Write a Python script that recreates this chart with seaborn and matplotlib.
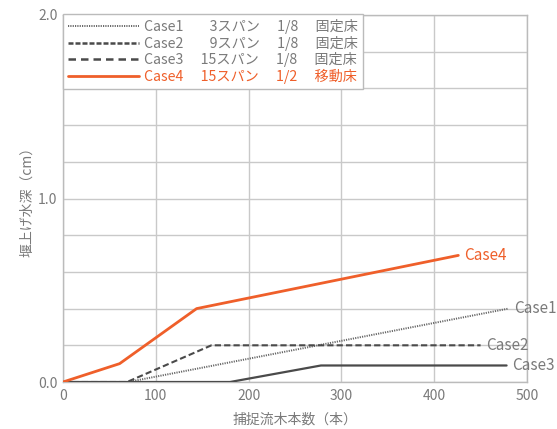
import matplotlib
matplotlib.use("Agg")
import matplotlib.pyplot as plt
from matplotlib.lines import Line2D
import seaborn as sns
import pandas as pd
import numpy as np

# ---- data ----
case1_x = [0, 70, 480]
case1_y = [0.0, 0.0, 0.40]
case2_x = [0, 69, 160, 450]
case2_y = [0.0, 0.0, 0.20, 0.20]
case3_x = [0, 180, 278, 478]
case3_y = [0.0, 0.0, 0.09, 0.09]
case4_x = [0, 61, 144, 426]
case4_y = [0.0, 0.10, 0.40, 0.69]

case_names = ["Case1", "Case2", "Case3", "Case4"]
legend_labels = [
    "Case1\u2003\u2007 3スパン\u2003 1/8\u2003 固定床",
    "Case2\u2003\u2007 9スパン\u2003 1/8\u2003 固定床",
    "Case3\u2003 15スパン\u2003 1/8\u2003 固定床",
    "Case4\u2003 15スパン\u2003 1/2\u2003 移動床",
]
x_ticks = [0, 100, 200, 300, 400, 500]
y_ticks = [0.0, 1.0, 2.0]
y_tick_labels = ["0.0", "1.0", "2.0"]
xlabel = "捕捉流木本数（本）"
ylabel = "堰上げ水深（cm）"

sns.set_theme(style="white")
plt.rcParams["font.family"] = ["Noto Sans CJK JP", "DejaVu Sans"]

GRAY_TXT = "#7a7a7a"
DARK = "#4a4a4a"
ORANGE = "#ef5f2a"
GRID = "#c9c9c9"

frames = []
for name, xs, ys in [("Case1", case1_x, case1_y), ("Case2", case2_x, case2_y),
                     ("Case3", case3_x, case3_y), ("Case4", case4_x, case4_y)]:
    frames.append(pd.DataFrame({"x": xs, "y": ys, "case": name}))
df = pd.concat(frames, ignore_index=True)

fig = plt.figure(figsize=(5.57, 4.29), dpi=100)
ax = fig.add_axes([63/557, 47/429, (527-63)/557, (382-15)/429])

styles = {
    "Case1": dict(color="#666666", lw=1.4, ls=(0, (0.6, 0.6))),
    "Case2": dict(color=DARK, lw=1.5, ls=(0, (3, 1.5))),
    "Case3": dict(color=DARK, lw=1.6, ls="-"),
    "Case4": dict(color=ORANGE, lw=2.0, ls="-"),
}
for name in case_names:
    sub = df[df["case"] == name]
    st = styles[name]
    sns.lineplot(data=sub, x="x", y="y", ax=ax, color=st["color"], lw=st["lw"],
                 linestyle=st["ls"], legend=False, sort=False, zorder=3)

ax.set_xlim(0, 500)
ax.set_ylim(0, 2.0)
ax.set_xticks(x_ticks)
ax.set_yticks(y_ticks)
ax.set_yticklabels(y_tick_labels)
ax.set_yticks(np.arange(0, 2.01, 0.2), minor=True)
ax.grid(True, which="both", color=GRID, lw=1.0)
ax.set_axisbelow(True)
ax.tick_params(axis="both", length=0, labelsize=10, colors=GRAY_TXT)
ax.tick_params(axis="x", pad=5)
ax.tick_params(axis="y", pad=4)
ax.set_xlabel(xlabel, fontsize=10, color=GRAY_TXT, labelpad=7)
ax.set_ylabel(ylabel, fontsize=10, color=GRAY_TXT, labelpad=3)
for s in ax.spines.values():
    s.set_color("#bbbbbb")
    s.set_linewidth(1.0)

# end labels
end_labels = [("Case1", case1_x[-1], case1_y[-1], GRAY_TXT),
              ("Case2", case2_x[-1], case2_y[-1], GRAY_TXT),
              ("Case3", case3_x[-1], case3_y[-1], GRAY_TXT),
              ("Case4", case4_x[-1], case4_y[-1], ORANGE)]
for name, xe, ye, c in end_labels:
    ax.text(xe + 6, ye, name, color=c, fontsize=11, va="center", ha="left",
            clip_on=False, zorder=4)

handles = [
    Line2D([], [], color="#666666", lw=1.4, ls=(0, (0.6, 0.6))),
    Line2D([], [], color=DARK, lw=1.8, ls=(0, (2, 0.8))),
    Line2D([], [], color=DARK, lw=1.8, ls=(0, (3, 2))),
    Line2D([], [], color=ORANGE, lw=2.0, ls="-"),
]
leg = ax.legend(handles, legend_labels, loc="upper left", bbox_to_anchor=(0, 1.003),
                frameon=True, fontsize=10.2, handlelength=5.0, handletextpad=0.4,
                labelspacing=0.12, borderpad=0.35, borderaxespad=0, fancybox=False)
leg.get_frame().set_edgecolor("#bbbbbb")
leg.get_frame().set_linewidth(1.0)
leg.get_frame().set_alpha(1)
for t, c in zip(leg.get_texts(), [GRAY_TXT, GRAY_TXT, GRAY_TXT, ORANGE]):
    t.set_color(c)

fig.savefig("out.png", dpi=100)
